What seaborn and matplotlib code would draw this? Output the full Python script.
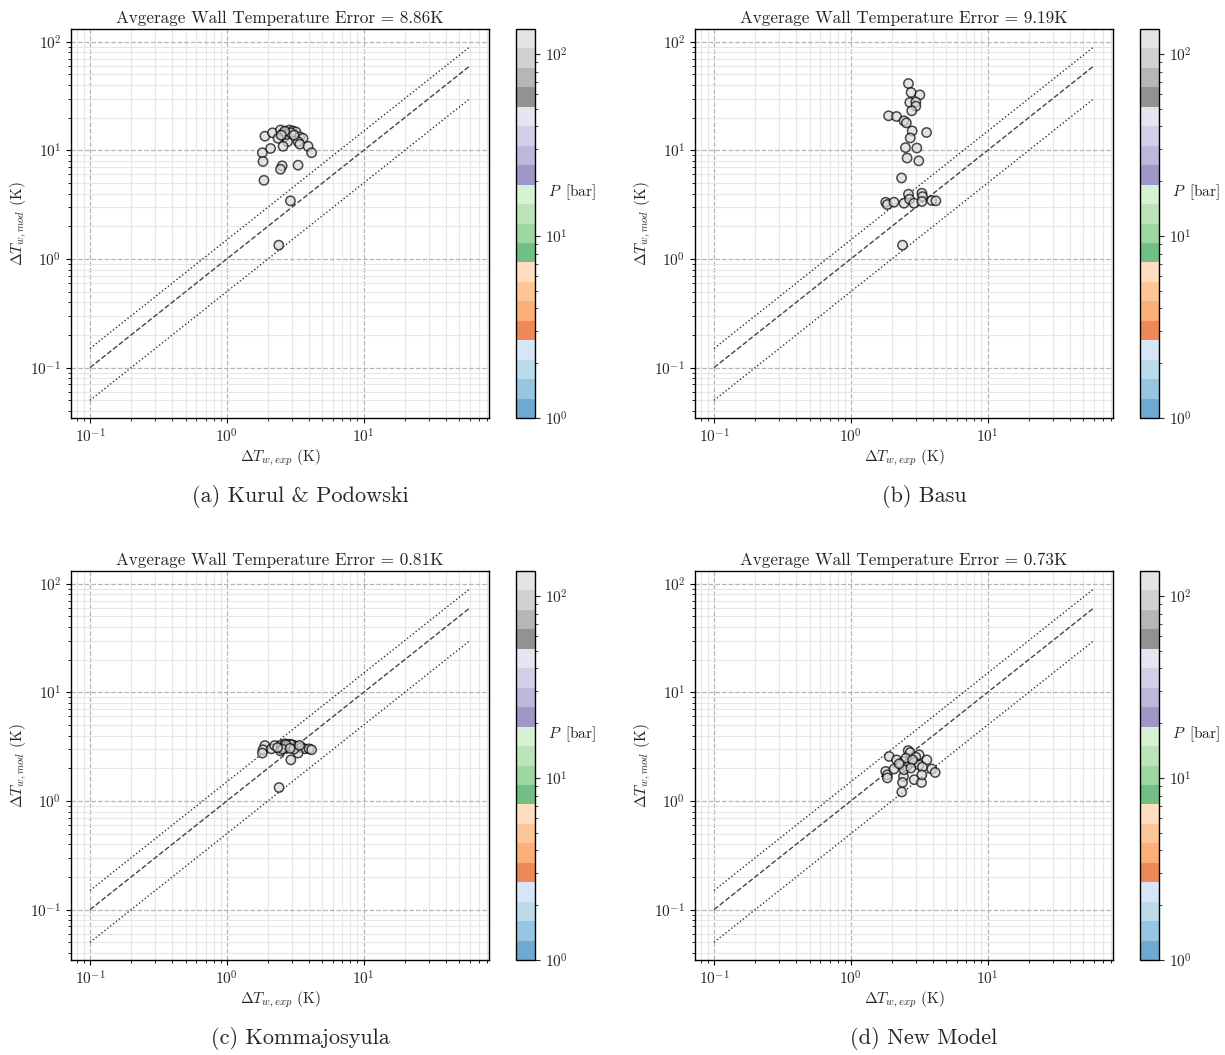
import numpy as np
import pandas as pd
import seaborn as sns
import matplotlib.pyplot as plt
from matplotlib.colors import LogNorm, ListedColormap, to_rgb
from matplotlib.cm import ScalarMappable

# ---- data (dT_exp, dT_mod in K) ----
titles = ["(a) Kurul & Podowski", "(b) Basu", "(c) Kommajosyula", "(d) New Model"]
avg_errors = [8.86, 9.19, 0.81, 0.73]

kp_exp = [1.90, 2.16, 2.47, 2.58, 2.70, 2.86, 3.03, 3.20, 2.63, 2.37, 3.42, 3.61, 3.32, 2.78,
          2.58, 3.42, 3.93, 4.17, 1.82, 2.09, 1.84, 2.54, 2.47, 3.32, 1.87, 2.92, 2.40,
          2.75, 2.95, 2.65, 3.10, 2.50]
kp_mod = [13.5, 14.5, 15.4, 14.3, 14.8, 15.4, 15.1, 14.8, 13.3, 12.9, 13.3, 12.9, 12.0, 12.0,
          10.9, 11.4, 10.9, 9.5, 9.5, 10.4, 7.9, 7.2, 6.7, 7.3, 5.3, 3.43, 1.34,
          14.0, 14.5, 15.0, 13.8, 13.8]

basu_exp = [2.64, 2.76, 3.20, 2.70, 2.99, 2.99, 2.79, 1.89, 2.16, 2.45, 2.55, 2.81, 3.58, 2.72,
            2.51, 3.04, 2.58, 3.14, 2.35, 1.80, 1.85, 2.07, 2.45, 2.64, 2.69, 2.90, 3.31,
            3.35, 3.31, 3.91, 4.19, 2.39]
basu_mod = [41.2, 34.1, 32.4, 27.6, 27.9, 25.5, 23.1, 20.8, 20.5, 18.7, 17.9, 15.1, 14.6, 13.0,
            10.6, 10.5, 8.5, 8.0, 5.57, 3.33, 3.17, 3.33, 3.26, 3.95, 3.55, 3.26, 4.03,
            3.75, 3.38, 3.45, 3.43, 1.34]

kom_exp = [1.90, 1.84, 1.82, 2.12, 2.24, 2.51, 2.66, 2.73, 2.86, 3.05, 3.24, 3.52, 3.72, 4.00,
           4.17, 2.47, 3.32, 2.94, 2.41, 2.60, 2.80, 2.95, 2.70, 3.10, 2.55, 3.40, 2.90, 2.35]
kom_mod = [3.24, 2.96, 2.76, 3.02, 3.24, 3.28, 3.36, 3.17, 3.33, 3.28, 3.17, 3.10, 3.02, 3.02,
           2.96, 2.89, 2.76, 2.39, 1.33, 3.10, 3.20, 3.30, 3.30, 3.00, 3.00, 3.25, 3.05, 3.10]

new_exp = [1.91, 2.16, 2.63, 2.72, 3.16, 2.99, 3.60, 2.45, 2.67, 2.32, 2.57, 2.91, 3.16, 3.34,
           3.91, 4.14, 1.80, 1.85, 1.85, 2.07, 2.43, 2.39, 2.91, 3.29, 3.31, 2.36, 2.53, 2.83,
           2.45, 2.75, 2.26]
new_mod = [2.57, 2.39, 2.91, 2.79, 2.66, 2.53, 2.39, 2.31, 2.23, 2.15, 2.08, 2.26, 2.15, 2.05,
           1.97, 1.83, 1.87, 1.74, 1.63, 1.97, 1.68, 1.48, 1.57, 1.48, 1.74, 1.21, 2.48, 2.39,
           1.94, 2.01, 2.20]

exp_sets = [kp_exp, basu_exp, kom_exp, new_exp]
mod_sets = [kp_mod, basu_mod, kom_mod, new_mod]

pressure_bar = 125.0   # all points sit in the lightest grey band of the colour bar
p_min, p_max = 1.0, 137.0

# reference lines
line_x = [0.1, 60.0]

sns.set_style("ticks")
plt.rcParams['font.family'] = ['cmr10', 'DejaVu Serif']
plt.rcParams['mathtext.fontset'] = 'cm'
plt.rcParams['axes.formatter.use_mathtext'] = True
plt.rcParams['axes.unicode_minus'] = False

base = plt.get_cmap('tab20c')
alpha = 0.7
blended = [tuple(alpha * np.array(to_rgb(c)) + (1 - alpha)) for c in base.colors]
cbar_cmap = ListedColormap(blended)
norm = LogNorm(vmin=p_min, vmax=p_max)

fig = plt.figure(figsize=(12.25, 10.55), dpi=100)
W, H = 1225.0, 1055.0

lefts = [71, 695]
tops = [29, 571]
ax_w, ax_h = 418, 389

for i in range(4):
    row, col = divmod(i, 2)
    l = lefts[col]
    t = tops[row]
    ax = fig.add_axes([l / W, 1 - (t + ax_h) / H, ax_w / W, ax_h / H])
    cax = fig.add_axes([(l + 445) / W, 1 - (t + ax_h) / H, 19 / W, ax_h / H])

    df = pd.DataFrame({'exp': exp_sets[i], 'mod': mod_sets[i]})
    df['P'] = pressure_bar

    ax.plot(line_x, [v * 1.5 for v in line_x], ls=':', color='#333333', lw=1.0, zorder=2)
    ax.plot(line_x, line_x, ls='--', color='#444444', lw=1.0, zorder=2)
    ax.plot(line_x, [v * 0.5 for v in line_x], ls=':', color='#333333', lw=1.0, zorder=2)

    sns.scatterplot(data=df, x='exp', y='mod', hue='P', palette=base, hue_norm=norm,
                    alpha=0.7, edgecolor='black', linewidth=1.1, s=45, legend=False,
                    ax=ax, zorder=3)

    ax.set_xscale('log')
    ax.set_yscale('log')
    ax.autoscale()
    ax.margins(0.05)

    ax.grid(which='major', ls='--', color='#b5b5b5', lw=0.9, zorder=0)
    ax.grid(which='minor', ls='-', color='#e6e6e6', lw=0.8, zorder=0)
    ax.set_axisbelow(True)
    for sp in ax.spines.values():
        sp.set_color('black')
        sp.set_linewidth(1.0)
    ax.tick_params(which='major', length=3.5, width=0.8, labelsize=11, color='black')
    ax.tick_params(which='minor', length=2, width=0.6, color='black')

    ax.set_xlabel(r'$\Delta T_{w,exp}$ (K)', fontsize=11, labelpad=1)
    ax.set_ylabel(r'$\Delta T_{w,mod}$ (K)', fontsize=11, labelpad=1)
    ax.set_title(f'Avgerage Wall Temperature Error = {avg_errors[i]:.2f}K', fontsize=12.3, pad=4)

    sm = ScalarMappable(norm=norm, cmap=cbar_cmap)
    cb = fig.colorbar(sm, cax=cax)
    cb.outline.set_edgecolor('black')
    cb.outline.set_linewidth(1.0)
    cax.tick_params(which='major', length=3.5, width=0.8, labelsize=11)
    cax.tick_params(which='minor', length=2, width=0.6)
    cax.set_ylabel(r'$P\,$ [bar]', rotation=0, fontsize=11, ha='left', va='center')
    cax.yaxis.set_label_coords(1.7, 0.58)

    cx = (l + 229) / W
    cy = 1 - (t + 467) / H
    fig.text(cx, cy, titles[i], ha='center', va='center', fontsize=16)

fig.savefig('out.png', dpi=100)
